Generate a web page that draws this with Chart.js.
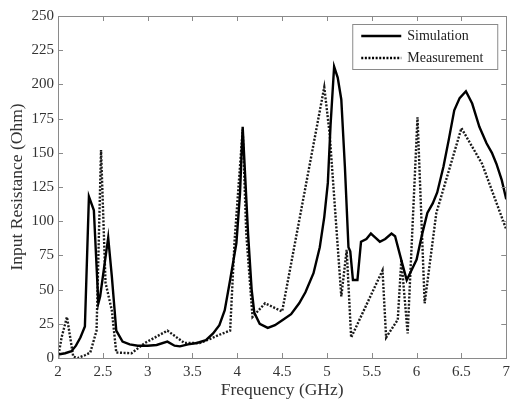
<!DOCTYPE html>
<html>
<head>
<meta charset="utf-8">
<script src="https://cdn.jsdelivr.net/npm/chart.js@4/dist/chart.umd.min.js"></script>
<style>
  html, body { margin: 0; padding: 0; background: #fff; }
  #wrap { width: 515px; height: 401px; }
</style>
</head>
<body>
<div id="wrap"><canvas id="c" width="515" height="401"></canvas></div>
<script>
// Input resistance vs frequency: simulated and measured
const freqSim = [2.00, 2.08, 2.15, 2.20, 2.25, 2.30, 2.345, 2.40, 2.45, 2.47, 2.56, 2.60, 2.65, 2.72, 2.80, 2.89, 3.00, 3.10, 3.22, 3.30, 3.36, 3.45, 3.55, 3.65, 3.73, 3.80, 3.86, 3.92, 3.99, 4.03, 4.06, 4.09, 4.12, 4.16, 4.19, 4.25, 4.34, 4.42, 4.51, 4.60, 4.69, 4.76, 4.85, 4.92, 4.97, 5.01, 5.04, 5.08, 5.12, 5.16, 5.20, 5.24, 5.26, 5.29, 5.34, 5.38, 5.44, 5.49, 5.54, 5.59, 5.65, 5.72, 5.76, 5.84, 5.89, 5.95, 6.00, 6.06, 6.12, 6.18, 6.23, 6.30, 6.36, 6.42, 6.48, 6.55, 6.62, 6.70, 6.78, 6.84, 6.89, 6.95, 7.00];
const resSim  = [2.5, 3.5, 5, 9, 15, 23, 118, 108, 40, 45, 88, 60, 20, 12, 10, 9, 9, 9.5, 12, 9, 8.5, 10, 11, 13, 18, 24, 35, 57, 84, 120, 169, 130, 91, 50, 33, 25, 22, 24, 28, 32, 40, 48, 62, 81, 103, 128, 170, 213, 205, 189, 140, 81, 78, 57, 57, 85, 87, 91, 88, 85, 87, 91, 89, 69, 57, 65, 72, 90, 106, 113, 121, 140, 160, 181, 190, 195, 186, 169, 157, 150, 142, 130, 116];

const freqMeas = [2.00, 2.04, 2.10, 2.17, 2.22, 2.30, 2.36, 2.43, 2.48, 2.53, 2.60, 2.65, 2.82, 2.97, 3.22, 3.41, 3.58, 3.70, 3.80, 3.92, 3.97, 4.06, 4.10, 4.17, 4.31, 4.50, 4.97, 5.03, 5.16, 5.22, 5.27, 5.62, 5.66, 5.79, 5.83, 5.90, 6.01, 6.09, 6.22, 6.50, 6.73, 7.00];
const resMeas  = [0, 15, 30, 1, 0, 2, 4, 20, 152, 55, 35, 4, 3.5, 11, 20, 11, 11, 14, 17, 20, 86, 167, 91, 30, 40, 34, 198, 164, 45, 79, 15, 64, 15, 28, 72, 18, 176, 40, 106, 168, 142, 94];

const seriesNames = ['Simulation', 'Measurement'];
const xTicks = [2, 2.5, 3, 3.5, 4, 4.5, 5, 5.5, 6, 6.5, 7];
const yTicks = [0, 25, 50, 75, 100, 125, 150, 175, 200, 225, 250];

const FONT = 'Liberation Serif';
const TEXT = '#333';
const FRAME = '#8a8a8a';

const toPoints = (xs, ys) => xs.map((x, i) => ({ x: x, y: ys[i] }));

// Box frame with inward ticks on all four sides
const framePlugin = {
  id: 'frame',
  afterDatasetsDraw(chart) {
    const { ctx, chartArea: a, scales } = chart;
    const len = 5;
    ctx.save();
    ctx.strokeStyle = FRAME;
    ctx.lineWidth = 1;
    ctx.beginPath();
    xTicks.forEach(v => {
      const px = Math.round(scales.x.getPixelForValue(v)) + 0.5;
      ctx.moveTo(px, a.bottom); ctx.lineTo(px, a.bottom - len);
      ctx.moveTo(px, a.top); ctx.lineTo(px, a.top + len);
    });
    yTicks.forEach(v => {
      const py = Math.round(scales.y.getPixelForValue(v)) + 0.5;
      ctx.moveTo(a.left, py); ctx.lineTo(a.left + len, py);
      ctx.moveTo(a.right, py); ctx.lineTo(a.right - len, py);
    });
    ctx.stroke();
    ctx.strokeRect(Math.round(a.left) + 0.5, Math.round(a.top) + 0.5,
                   Math.round(a.right - a.left), Math.round(a.bottom - a.top));
    ctx.restore();
  }
};

// Boxed legend in the upper right of the plot
const legendBoxPlugin = {
  id: 'legendBox',
  afterDraw(chart) {
    const { ctx, chartArea: a } = chart;
    const bx = a.right - 154, by = a.top + 8, bw = 145, bh = 45;
    ctx.save();
    ctx.fillStyle = '#fff';
    ctx.fillRect(bx, by, bw, bh);
    ctx.strokeStyle = FRAME;
    ctx.lineWidth = 1;
    ctx.strokeRect(bx + 0.5, by + 0.5, bw, bh);
    ctx.font = '14px "' + FONT + '"';
    ctx.fillStyle = '#222';
    ctx.textBaseline = 'middle';
    chart.data.datasets.forEach((ds, i) => {
      const y = by + 12 + i * 22;
      ctx.strokeStyle = '#000';
      ctx.lineWidth = ds.borderWidth;
      ctx.setLineDash(ds.borderDash || []);
      ctx.beginPath();
      ctx.moveTo(bx + 9, y); ctx.lineTo(bx + 49, y);
      ctx.stroke();
      ctx.setLineDash([]);
      ctx.fillText(ds.label, bx + 55, y);
    });
    ctx.restore();
  }
};

new Chart(document.getElementById('c'), {
  type: 'scatter',
  data: {
    datasets: [
      {
        label: seriesNames[0],
        data: toPoints(freqSim, resSim),
        showLine: true,
        borderColor: '#000',
        borderWidth: 2.4,
        pointRadius: 0,
        tension: 0
      },
      {
        label: seriesNames[1],
        data: toPoints(freqMeas, resMeas),
        showLine: true,
        borderColor: '#1a1a1a',
        borderWidth: 2.4,
        borderDash: [2, 1.6],
        pointRadius: 0,
        tension: 0
      }
    ]
  },
  options: {
    responsive: false,
    animation: false,
    layout: { padding: { left: 0, right: 8, top: 16, bottom: 0 } },
    plugins: { legend: { display: false }, tooltip: { enabled: false } },
    scales: {
      x: {
        type: 'linear',
        min: 2, max: 7,
        afterBuildTicks: s => { s.ticks = xTicks.map(v => ({ value: v })); },
        afterFit: s => { s.height = 43; },
        grid: { display: false, drawTicks: false },
        border: { display: false },
        ticks: {
          padding: 5,
          color: TEXT,
          font: { family: FONT, size: 15 },
          callback: v => String(v)
        },
        title: {
          display: true,
          text: 'Frequency (GHz)',
          color: TEXT,
          font: { family: FONT, size: 17.5 },
          padding: { top: 0, bottom: 0 }
        }
      },
      y: {
        type: 'linear',
        min: 0, max: 250,
        afterBuildTicks: s => { s.ticks = yTicks.map(v => ({ value: v })); },
        afterFit: s => { s.width = 58; },
        grid: { display: false, drawTicks: false },
        border: { display: false },
        ticks: {
          padding: 4,
          color: TEXT,
          font: { family: FONT, size: 15 }
        },
        title: {
          display: true,
          text: 'Input Resistance (Ohm)',
          color: TEXT,
          font: { family: FONT, size: 17.5 },
          padding: { top: 7, bottom: 0 }
        }
      }
    }
  },
  plugins: [framePlugin, legendBoxPlugin]
});
</script>
</body>
</html>
